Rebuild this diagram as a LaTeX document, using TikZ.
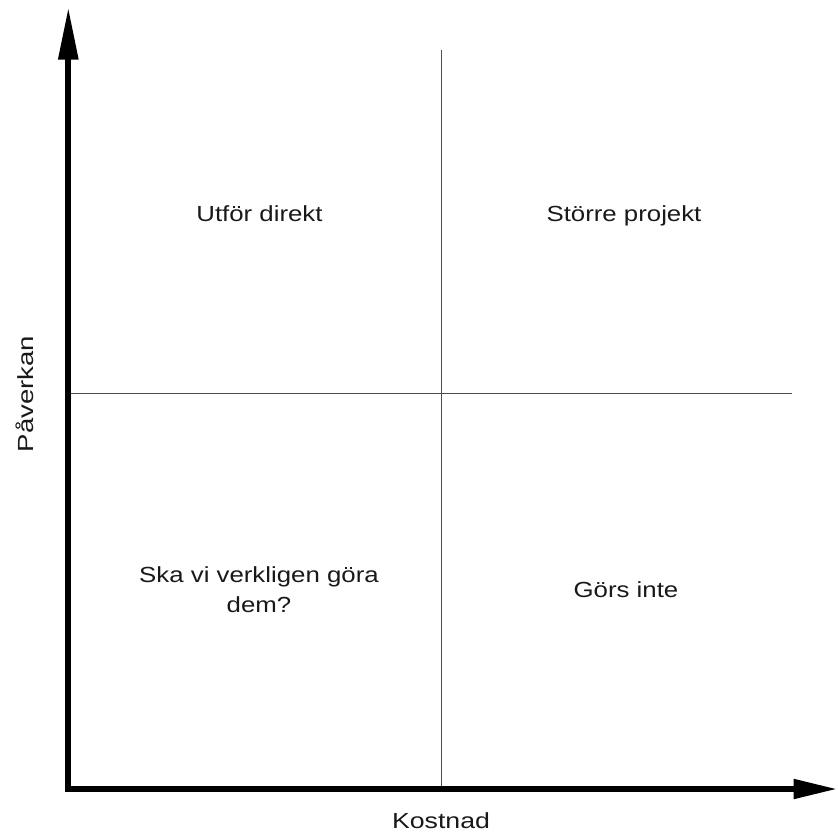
\documentclass[tikz,border=0pt]{standalone}
\usepackage{fontspec}
\usepackage{graphicx}
\setmainfont{Liberation Sans}
\usetikzlibrary{arrows.meta}
\newcommand\widetxt[2][1.18]{\scalebox{#1}[1]{#2}}
\begin{document}
\begin{tikzpicture}[x=0.75pt,y=-0.75pt,
  axis/.style={line width=4.6pt,line cap=butt},
  grid/.style={draw=black!70,line width=1pt},
  lbl/.style={inner sep=0pt,anchor=base,font=\fontsize{16.4}{22.5}\selectfont,text=black!90}]
\useasboundingbox (0,0) rectangle (838,834);
\coordinate (o) at (68.3,789);
\coordinate (ytip) at (68.3,7);
\coordinate (xtip) at (837.5,789);
\coordinate (vtop) at (441.5,50);
\coordinate (vbot) at (441.5,789);
\coordinate (hl) at (68.3,393.5);
\coordinate (hr) at (791.5,393.5);
\draw[grid] (vtop) -- (vbot);
\draw[grid] (hl) -- (hr);
\draw[axis,-{Triangle[length=39.5pt,width=14.2pt]}] ([yshift=-2.45pt]o) -- (ytip);
\draw[axis,-{Triangle[length=33pt,width=14pt]}] ([xshift=-2.45pt]o) -- (xtip);
\node[lbl] (q1) at (259.5,222) {\widetxt{Utför direkt}};
\node[lbl] (q2) at (624,222) {\widetxt{Större projekt}};
\node[lbl,align=center] (q3) at (259,612) {\widetxt{Ska vi verkligen göra}\\\widetxt{dem?}};
\node[lbl] (q4) at (626,597) {\widetxt{Görs inte}};
\node[lbl] (xl) at (441,828) {\widetxt[1.22]{Kostnad}};
\node[lbl,rotate=90] (yl) at (33.5,394) {\widetxt[1.26]{Påverkan}};
\end{tikzpicture}
\end{document}
